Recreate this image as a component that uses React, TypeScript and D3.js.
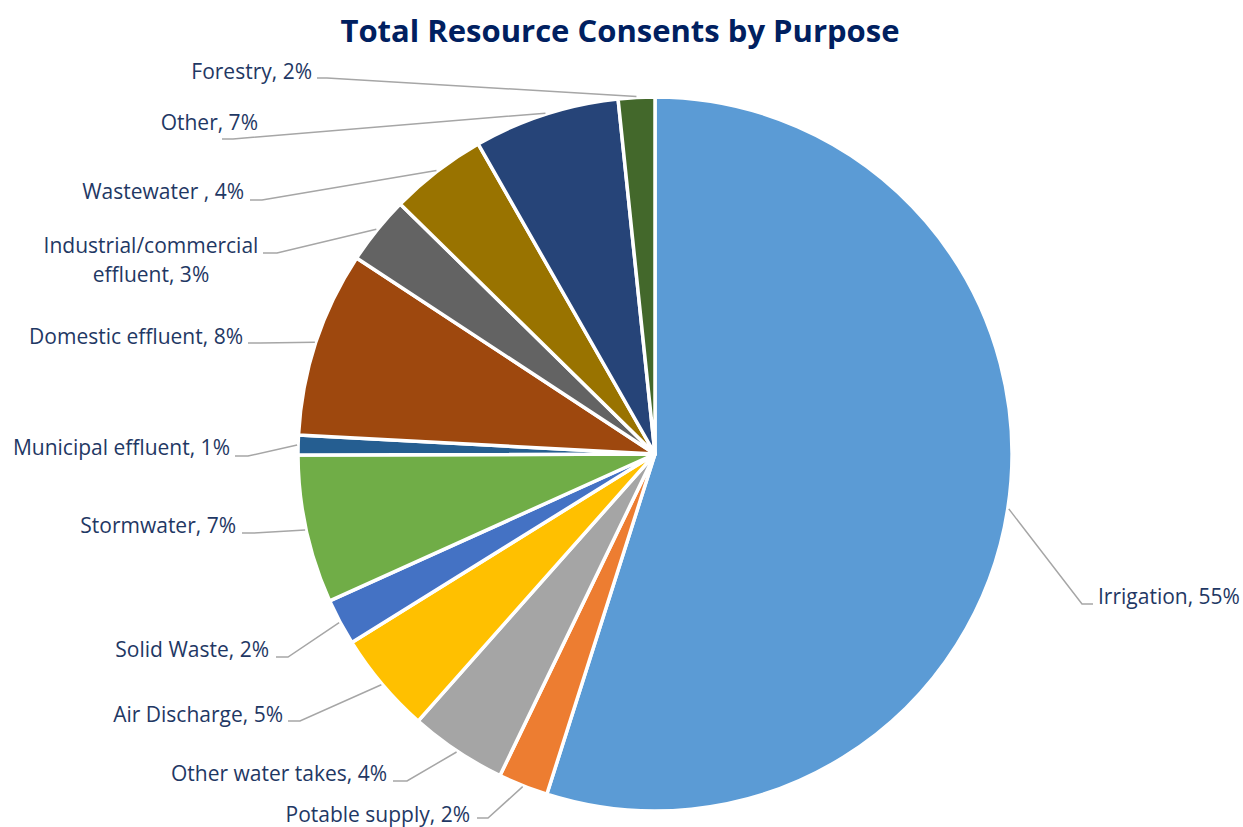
import React from "react";
import * as d3 from "d3";

const categories = [
  "Irrigation",
  "Potable supply",
  "Other water takes",
  "Air Discharge",
  "Solid Waste",
  "Stormwater",
  "Municipal effluent",
  "Domestic effluent",
  "Industrial/commercial effluent",
  "Wastewater ",
  "Other",
  "Forestry",
];

const values = [54.9, 2.25, 4.4, 4.6, 2.1, 6.7, 0.9, 8.4, 3.1, 4.4, 6.6, 1.65];

const colors = [
  "#5B9BD5",
  "#ED7D31",
  "#A5A5A5",
  "#FFC000",
  "#4472C4",
  "#70AD47",
  "#255E91",
  "#9E480E",
  "#636363",
  "#997300",
  "#264478",
  "#43682B",
];

// label layout: text anchor point, leader line start and bend
const labelLayout = [
  { tx: 1098, ty: 604, anchor: "start", lx: 1093, ly: 604, bx: 1082, lines: 1 },
  { tx: 470, ty: 822, anchor: "end", lx: 477, ly: 818, bx: 488, lines: 1 },
  { tx: 387, ty: 781, anchor: "end", lx: 393, ly: 781, bx: 407, lines: 1 },
  { tx: 283, ty: 722, anchor: "end", lx: 288, ly: 721, bx: 300, lines: 1 },
  { tx: 269, ty: 657, anchor: "end", lx: 276, ly: 657, bx: 288, lines: 1 },
  { tx: 236, ty: 533, anchor: "end", lx: 242, ly: 533, bx: 254, lines: 1 },
  { tx: 230, ty: 455, anchor: "end", lx: 235, ly: 456, bx: 248, lines: 1 },
  { tx: 243, ty: 344, anchor: "end", lx: 248, ly: 343, bx: 260, lines: 1 },
  { tx: 151, ty: 253, anchor: "middle", lx: 263, ly: 253, bx: 277, lines: 2 },
  { tx: 244, ty: 199, anchor: "end", lx: 250, ly: 200, bx: 262, lines: 1 },
  { tx: 258, ty: 130, anchor: "end", lx: 222, ly: 139, bx: 233, lines: 1 },
  { tx: 312, ty: 79, anchor: "end", lx: 317, ly: 78, bx: 327, lines: 1 },
];

const W = 1243;
const H = 827;
const cx = 655;
const cy = 454;
const R = 357;

export default function App() {
  const total = d3.sum(values);
  const pie = d3
    .pie<number>()
    .sort(null)
    .value((d) => d)
    .startAngle(0)
    .endAngle(2 * Math.PI);
  const arcs = pie(values);
  const arc = d3.arc<d3.PieArcDatum<number>>().innerRadius(0).outerRadius(R);

  const font = "'Open Sans', sans-serif";
  const textColor = "#1F3864";
  const fs = 21;

  return (
    <svg
      width={W}
      height={H}
      style={{ position: "absolute", left: 0, top: 0, background: "#fff" }}
    >
      <text
        x={620}
        y={42}
        textAnchor="middle"
        fontFamily={font}
        fontWeight="bold"
        fontSize={31}
        fill="#002060"
      >
        Total Resource Consents by Purpose
      </text>
      <g transform={`translate(${cx},${cy})`}>
        {arcs.map((a, i) => (
          <path
            key={i}
            d={arc(a) || ""}
            fill={colors[i]}
            stroke="#fff"
            strokeWidth={3.5}
            strokeLinejoin="round"
          />
        ))}
      </g>
      {arcs.map((a, i) => {
        const L = labelLayout[i];
        const mid = (a.startAngle + a.endAngle) / 2;
        const ex = cx + (R + 1) * Math.sin(mid);
        const ey = cy - (R + 1) * Math.cos(mid);
        return (
          <path
            key={"l" + i}
            d={`M${L.lx},${L.ly}L${L.bx},${L.ly}L${ex},${ey}`}
            fill="none"
            stroke="#A6A6A6"
            strokeWidth={1.5}
          />
        );
      })}
      {arcs.map((a, i) => {
        const L = labelLayout[i];
        const pct = Math.round((values[i] / total) * 100);
        const name = categories[i];
        if (L.lines === 2) {
          const parts = name.split(" ");
          return (
            <text
              key={"t" + i}
              x={L.tx}
              y={L.ty}
              textAnchor={L.anchor as any}
              fontFamily={font}
              fontSize={fs}
              fill={textColor}
            >
              <tspan x={L.tx} y={L.ty}>
                {parts[0]}
              </tspan>
              <tspan x={L.tx} y={L.ty + 29}>
                {parts.slice(1).join(" ") + ", " + pct + "%"}
              </tspan>
            </text>
          );
        }
        return (
          <text
            key={"t" + i}
            x={L.tx}
            y={L.ty}
            textAnchor={L.anchor as any}
            fontFamily={font}
            fontSize={fs}
            fill={textColor}
          >
            {name + ", " + pct + "%"}
          </text>
        );
      })}
    </svg>
  );
}
